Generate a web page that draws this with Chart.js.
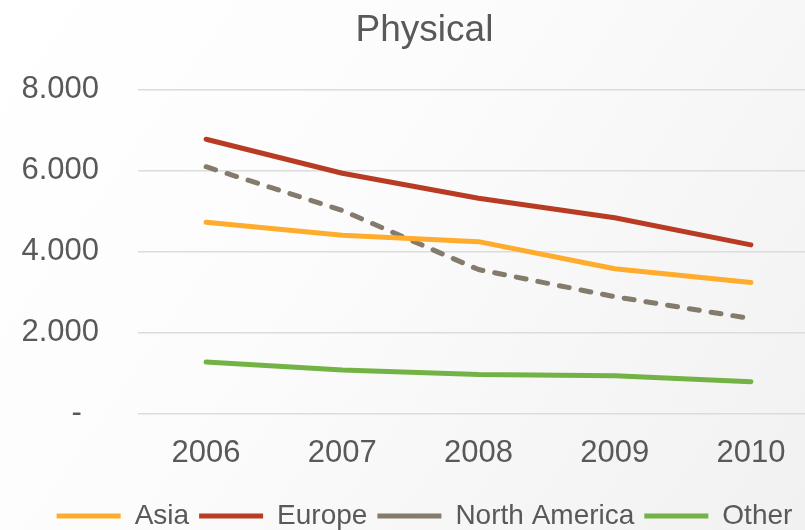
<!DOCTYPE html>
<html>
<head>
<meta charset="utf-8">
<script src="https://cdn.jsdelivr.net/npm/chart.js@4/dist/chart.umd.min.js"></script>
<style>
  html, body { margin: 0; padding: 0; width: 805px; height: 530px; overflow: hidden; }
  body { background: linear-gradient(125deg, #ffffff 0%, #fcfcfc 40%, #f1f1f1 100%); }
  #wrap { position: absolute; left: 0; top: 0; width: 850px; height: 540px; }
</style>
</head>
<body>
<div id="wrap"><canvas id="c" width="850" height="540"></canvas></div>
<script>
// Physical sales by region, 2006–2010
const years = ['2006', '2007', '2008', '2009', '2010'];
const asia = [4720, 4400, 4240, 3570, 3230];
const europe = [6770, 5930, 5310, 4830, 4160];
const northAmerica = [6090, 5010, 3550, 2880, 2340];
const other = [1270, 1070, 960, 930, 780];
const yTickValues = [0, 2000, 4000, 6000, 8000];
const yTickLabels = ['-  ', '2.000', '4.000', '6.000', '8.000'];

const textColor = '#595959';
const family = '"Liberation Sans", Arial, Helvetica, sans-serif';

function series(label, data, color, dash) {
  return {
    label, data,
    borderColor: color,
    backgroundColor: color,
    borderWidth: 5,
    borderDash: dash || [],
    borderCapStyle: 'round',
    borderJoinStyle: 'round',
    pointRadius: 0,
    pointHoverRadius: 0,
    tension: 0,
    fill: false
  };
}

// let the value labels run past the left edge of the axis box
const wideLabels = {
  id: 'wideLabels',
  afterLayout(chart) { chart.scales.y.left = 0; }
};

new Chart(document.getElementById('c'), {
  type: 'line',
  data: {
    labels: years,
    datasets: [
      series('Asia', asia, '#ffab2b'),
      series('Europe', europe, '#b83c24'),
      series('North America', northAmerica, '#857b6c', [10, 12]),
      series('Other', other, '#73b346')
    ]
  },
  plugins: [wideLabels],
  options: {
    responsive: false,
    animation: false,
    layout: { padding: { left: 30, right: 31, top: 0, bottom: 0 } },
    plugins: {
      title: {
        display: true,
        text: 'Physical',
        color: textColor,
        font: { family, size: 37, weight: 'normal' },
        padding: { top: 9, bottom: 36 }
      },
      legend: {
        position: 'bottom',
        labels: {
          color: textColor,
          font: { family, size: 28 },
          usePointStyle: true,
          pointStyle: 'line',
          pointStyleWidth: 64,
          padding: 10
        }
      },
      tooltip: { enabled: false }
    },
    scales: {
      x: {
        offset: true,
        grid: { display: false, drawTicks: false },
        border: { display: false },
        ticks: { color: textColor, font: { family, size: 31 }, padding: 22, maxRotation: 0 },
        afterFit(scale) { scale.height -= 2.5; }
      },
      y: {
        min: 0,
        max: 8000,
        afterBuildTicks(scale) { scale.ticks = yTickValues.map(v => ({ value: v })); },
        afterFit(scale) { scale.width = 108; },
        grid: { color: '#dcdcdc', lineWidth: 1.5, drawTicks: false },
        border: { display: false },
        ticks: {
          color: textColor,
          font: { family, size: 31 },
          padding: 39,
          callback(value) {
            const i = yTickValues.indexOf(value);
            return i >= 0 ? yTickLabels[i] : '';
          }
        }
      }
    }
  }
});
</script>
</body>
</html>
